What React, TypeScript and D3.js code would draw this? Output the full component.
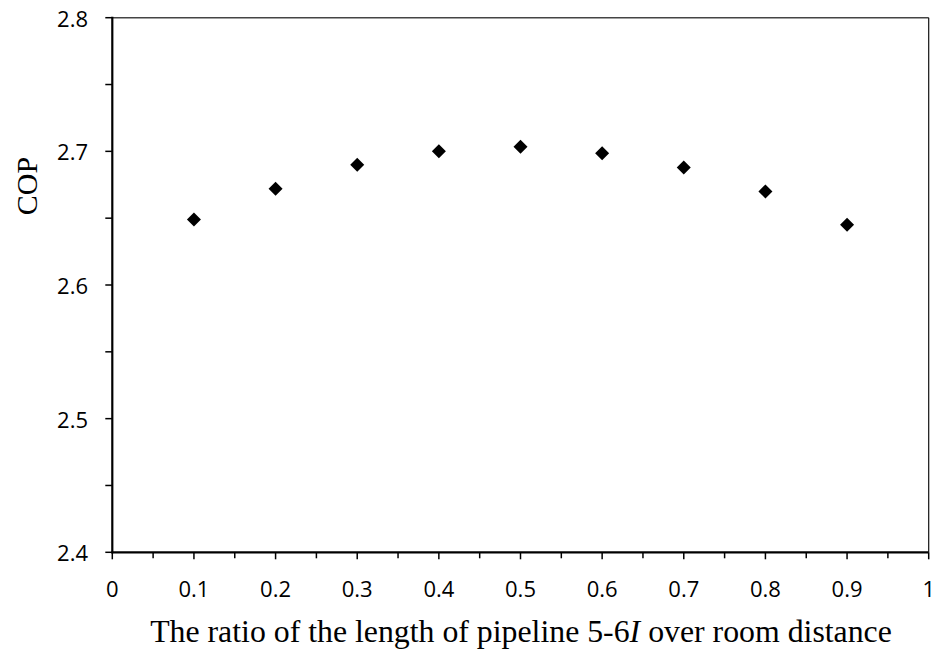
import React from "react";
import * as d3 from "d3";

const ratios = [0.1, 0.2, 0.3, 0.4, 0.5, 0.6, 0.7, 0.8, 0.9];
const cop = [2.649, 2.672, 2.690, 2.700, 2.7035, 2.6985, 2.688, 2.670, 2.645];
const xTicks = [0, 0.1, 0.2, 0.3, 0.4, 0.5, 0.6, 0.7, 0.8, 0.9, 1];
const xTickLabels = ["0", "0.1", "0.2", "0.3", "0.4", "0.5", "0.6", "0.7", "0.8", "0.9", "1"];
const xMinor = [0.05, 0.15, 0.25, 0.35, 0.45, 0.55, 0.65, 0.75, 0.85, 0.95];
const yTicks = [2.4, 2.5, 2.6, 2.7, 2.8];
const yTickLabels = ["2.4", "2.5", "2.6", "2.7", "2.8"];
const yMinor = [2.45, 2.55, 2.65, 2.75];

const W = 937;
const H = 650;
const left = 112.3;
const right = 928.7;
const top = 17.7;
const bottom = 552.3;

export default function App() {
  const x = d3.scaleLinear().domain([0, 1]).range([left, right]);
  const y = d3.scaleLinear().domain([2.4, 2.8]).range([bottom, top]);
  const diamond = d3.symbol().type(d3.symbolSquare).size(98)() as string;
  const tickFont = "'Open Sans', sans-serif";
  const serif = "'Liberation Serif', 'Times New Roman', serif";

  return (
    <svg
      width={W}
      height={H}
      style={{ position: "absolute", left: 0, top: 0, background: "#fff" }}
    >
      <rect x={0} y={0} width={W} height={H} fill="#fff" />
      {/* frame */}
      <line x1={left} x2={right} y1={top} y2={top} stroke="#444" strokeWidth={1.5} />
      <line x1={right} x2={right} y1={top} y2={bottom} stroke="#111" strokeWidth={1.2} />
      {/* y ticks */}
      {yTicks.map((t) => (
        <line key={"yt" + t} x1={left - 7} x2={left} y1={y(t)} y2={y(t)} stroke="#000" strokeWidth={1.5} />
      ))}
      {yMinor.map((t) => (
        <line key={"ym" + t} x1={left - 7} x2={left} y1={y(t)} y2={y(t)} stroke="#000" strokeWidth={1.5} />
      ))}
      {yTicks.map((t, i) => (
        <text
          key={"yl" + t}
          x={88}
          y={y(t)}
          textAnchor="end"
          dominantBaseline="central"
          fontFamily={tickFont}
          fontSize={22}
          fill="#000"
        >
          {yTickLabels[i]}
        </text>
      ))}
      {/* x ticks */}
      {xTicks.map((t) => (
        <line key={"xt" + t} x1={x(t)} x2={x(t)} y1={bottom} y2={bottom + 7} stroke="#000" strokeWidth={1.5} />
      ))}
      {xMinor.map((t) => (
        <line key={"xm" + t} x1={x(t)} x2={x(t)} y1={bottom} y2={bottom + 6} stroke="#000" strokeWidth={1.5} />
      ))}
      {xTicks.map((t, i) => (
        <text
          key={"xl" + t}
          x={x(t)}
          y={597}
          textAnchor="middle"
          fontFamily={tickFont}
          fontSize={22}
          fill="#000"
        >
          {xTickLabels[i]}
        </text>
      ))}
      {/* axes */}
      <line x1={left} x2={left} y1={top - 1} y2={bottom + 1} stroke="#000" strokeWidth={2.2} />
      <line x1={left - 1} x2={right} y1={bottom} y2={bottom} stroke="#000" strokeWidth={2.2} />
      {/* points */}
      {ratios.map((r, i) => (
        <path
          key={"p" + r}
          d={diamond}
          transform={`translate(${x(r)},${y(cop[i])}) rotate(45)`}
          fill="#000"
        />
      ))}
      {/* titles */}
      <text
        x={521}
        y={642}
        textAnchor="middle"
        fontFamily={serif}
        fontSize={31.8}
        fill="#000"
      >
        The ratio of the length of pipeline 5-6<tspan fontStyle="italic">I</tspan> over room distance
      </text>
      <text
        transform="translate(37,186) rotate(-90)"
        textAnchor="middle"
        fontFamily={serif}
        fontSize={30}
        fill="#000"
      >
        COP
      </text>
    </svg>
  );
}
